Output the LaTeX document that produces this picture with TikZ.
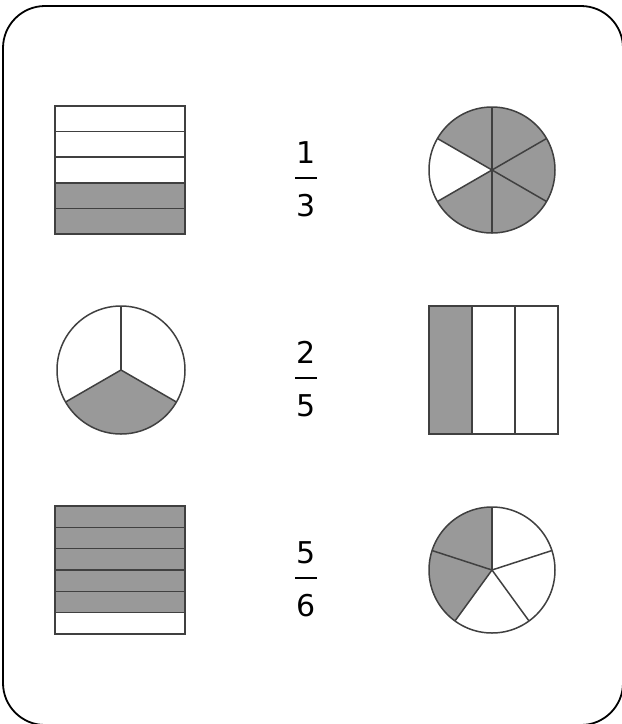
\documentclass[tikz,border=0pt]{standalone}
\usepackage{fontspec}
\setmainfont{DejaVu Sans}
\usepackage{tikz}
\usetikzlibrary{positioning}
\definecolor{partgray}{HTML}{999999}
\definecolor{edge}{HTML}{404040}

\begin{document}
\begin{tikzpicture}[x=1pt,y=1pt]
\tikzstyle{part}=[draw=edge,line width=1.5pt]
\tikzstyle{num}=[font=\fontsize{30}{36}\selectfont,inner sep=0pt,anchor=base]
\tikzstyle{bar}=[line width=1.6pt]
\useasboundingbox (0,0) rectangle (622,-724);
\draw[line width=1.8pt,rounded corners=42pt] (3,-6) rectangle (623,-725);

% row 1: stripes, 1/3, six sectors
\fill[partgray] (55,-182.8) rectangle (185,-234);
\foreach \k in {1,...,4} \draw[part] (55,{-106-25.6*\k}) -- (185,{-106-25.6*\k});
\draw[part] (55,-106) rectangle (185,-234);
\node[num] (n1) at (306,-163.3) {1};
\node[num] (d1) at (306,-216) {3};
\draw[bar] (295,-178) -- (317,-178);
\fill[partgray] (492,-170) circle[radius=63];
\fill[white] (492,-170) -- ++(150:63) arc[start angle=150,end angle=210,radius=63] -- cycle;
\foreach \a in {30,90,...,330} \draw[part] (492,-170) -- ++(\a:63);
\draw[part] (492,-170) circle[radius=63];

% row 2: three sectors, 2/5, columns
\fill[partgray] (121,-370) -- ++(210:64) arc[start angle=210,end angle=330,radius=64] -- cycle;
\foreach \a in {90,210,330} \draw[part] (121,-370) -- ++(\a:64);
\draw[part] (121,-370) circle[radius=64];
\node[num] (n2) at (306,-363.3) {2};
\node[num] (d2) at (306,-416) {5};
\draw[bar] (295,-378) -- (317,-378);
\fill[partgray] (429,-306) rectangle (472,-434);
\foreach \k in {1,2} \draw[part] ({429+43*\k},-306) -- ({429+43*\k},-434);
\draw[part] (429,-306) rectangle (558,-434);

% row 3: stripes, 5/6, five sectors
\fill[partgray] (55,-506) rectangle (185,-612.7);
\foreach \k in {1,...,5} \draw[part] (55,{-506-21.33*\k}) -- (185,{-506-21.33*\k});
\draw[part] (55,-506) rectangle (185,-634);
\node[num] (n3) at (306,-563.3) {5};
\node[num] (d3) at (306,-616) {6};
\draw[bar] (295,-578) -- (317,-578);
\fill[partgray] (492,-570) -- ++(90:63) arc[start angle=90,end angle=234,radius=63] -- cycle;
\foreach \a in {90,162,234,306,378} \draw[part] (492,-570) -- ++(\a:63);
\draw[part] (492,-570) circle[radius=63];
\end{tikzpicture}
\end{document}
